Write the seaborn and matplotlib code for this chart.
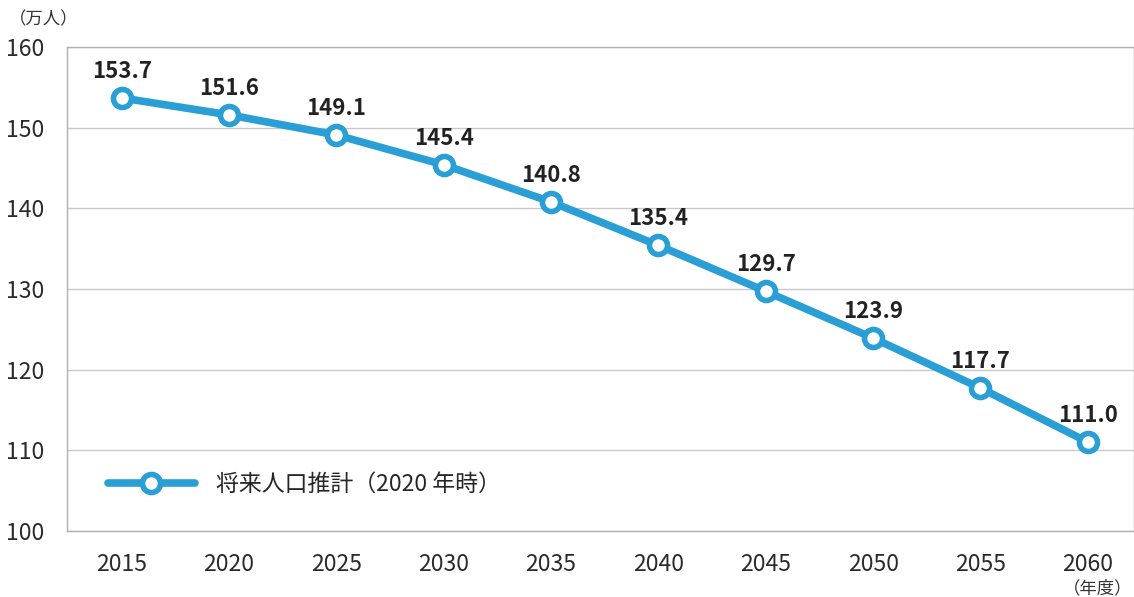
import numpy as np
import matplotlib.pyplot as plt
import pandas as pd
import seaborn as sns

sns.set_style("white")
plt.rcParams["font.family"] = ['Noto Sans CJK JP', 'DejaVu Sans']

years = [2015, 2020, 2025, 2030, 2035, 2040, 2045, 2050, 2055, 2060]
population = [153.7, 151.6, 149.1, 145.4, 140.8, 135.4, 129.7, 123.9, 117.7, 111.0]
series_name = '将来人口推計（2020 年時）'

df = pd.DataFrame({'year': years, 'pop': population})

fig = plt.figure(figsize=(11.34, 5.97), dpi=100)
ax = fig.add_axes([0.059, 0.111, 0.941, 0.81])

line_col = '#2a9fd6'
sns.lineplot(data=df, x='year', y='pop', ax=ax, color=line_col, linewidth=5.5,
             marker='o', markersize=13, markerfacecolor='white',
             markeredgecolor=line_col, markeredgewidth=4, label=series_name)

for x, y in zip(years, population):
    ax.annotate(f'{y:.1f}', (x, y), xytext=(0, 11), textcoords='offset points',
                ha='center', va='bottom', fontsize=16, fontweight='bold', color='#222222')

ax.set_xlim(2012.45, 2062.15)
ax.set_ylim(100, 160)
ax.set_yticks(np.arange(100, 161, 10))
ax.set_xticks(years)
ax.tick_params(axis='both', labelsize=16.5, colors='#2a2a2a', length=0)
ax.tick_params(axis='x', pad=16)
ax.tick_params(axis='y', pad=16)
ax.grid(axis='y', color='#c8c8c8', linewidth=1)
ax.set_axisbelow(True)
for s in ax.spines.values():
    s.set_color('#b0b0b0')
    s.set_linewidth(1)
ax.set_xlabel('')
ax.set_ylabel('')

leg = ax.legend(loc='lower left', bbox_to_anchor=(0.019, 0.03), frameon=False,
                fontsize=16.5, handlelength=3.8, handletextpad=0.9)

fig.text(0.008, 0.968, '（万人）', fontsize=12.5, color='#333333', ha='left', va='center')
fig.text(0.999, 0.015, '（年度）', fontsize=12.5, color='#333333', ha='right', va='center')

plt.savefig('out.png', dpi=100)
